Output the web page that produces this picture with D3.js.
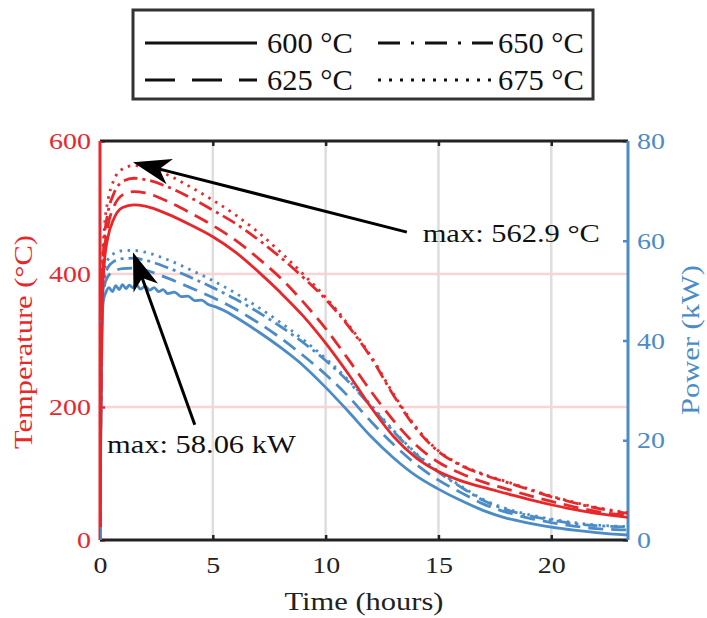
<!DOCTYPE html>
<html>
<head>
<meta charset="utf-8">
<script src="https://cdn.jsdelivr.net/npm/d3@7"></script>
<style>
  body { margin: 0; background: #fff; }
  text { font-family: "Liberation Serif", "Times New Roman", serif; }
</style>
</head>
<body>
<div id="chart"></div>
<script>
// Values
// ==============================
var hours = [0, 0.05, 0.1, 0.2, 0.35, 0.6, 1.0, 1.5, 2, 3, 4, 5, 6, 7, 8, 9, 10, 11, 12, 13, 14, 15, 16, 17, 18, 19, 20, 21, 22, 23.4];

// temperature (°C), one list per setpoint
var temp600 = [20, 250, 360, 420, 455, 482, 500, 504, 502, 490, 474, 456, 433, 404, 372, 337, 296, 250, 200, 156, 124, 103, 89, 79, 70, 61, 53, 46, 40, 34];
var temp625 = [20, 260, 375, 435, 472, 500, 519, 524, 522, 509, 492, 473, 451, 424, 394, 358, 318, 272, 224, 180, 143, 117, 100, 87, 77, 67, 58, 50, 43, 37];
var temp650 = [20, 270, 390, 455, 492, 520, 539, 544, 542, 531, 515, 496, 476, 452, 425, 395, 362, 322, 275, 218, 168, 133, 112, 98, 87, 76, 65, 56, 48, 40];
var temp675 = [20, 280, 405, 472, 510, 540, 558, 563, 561, 549, 531, 511, 489, 463, 433, 400, 365, 324, 277, 220, 170, 134, 113, 99, 88, 77, 66, 57, 49, 41];

// power (kW); the 600 °C trace is noisy so it has its own finer time list
var hoursFine = [0, 0.05, 0.1, 0.15, 0.25, 0.4, 0.55, 0.7, 0.85, 1.0, 1.15, 1.3, 1.45, 1.6, 1.8, 2.0, 2.2, 2.4, 2.6, 2.8, 3.0, 3.3, 3.6, 3.9, 4.2, 4.5, 4.8, 5.1, 5.5, 6, 7, 8, 9, 10, 11, 12, 13, 14, 15, 16, 17, 18, 19, 20, 21, 22, 23.4];
var power600 = [0, 30, 44, 48, 49.5, 50.6, 49.8, 51.0, 50.2, 51.2, 50.4, 51.1, 50.6, 51.2, 50.3, 50.9, 50.1, 50.6, 49.8, 50.2, 49.4, 49.7, 48.8, 48.9, 48.0, 48.1, 47.2, 46.8, 46.0, 44.7, 41.8, 38.6, 35.0, 30.6, 25.8, 20.8, 16.5, 12.9, 10.2, 7.9, 5.9, 4.4, 3.4, 2.6, 2.0, 1.5, 1.0];
var power625 = [0, 32, 46, 51, 52.8, 53.8, 54.4, 54.5, 54.1, 52.5, 50.6, 48.6, 46.3, 43.6, 40.5, 37.0, 33.2, 28.8, 23.8, 19.2, 15.2, 12.0, 9.5, 7.2, 5.6, 4.4, 3.5, 2.8, 2.3, 2.0];
var power650 = [0, 33, 47, 52.5, 54.6, 55.8, 56.4, 56.5, 56.1, 54.6, 52.7, 50.6, 48.3, 45.7, 42.8, 39.6, 36.0, 31.8, 26.8, 21.8, 17.2, 13.6, 10.6, 7.9, 6.1, 4.9, 4.0, 3.3, 2.9, 2.6];
var power675 = [0, 34, 48.5, 54, 56.2, 57.4, 58.0, 58.06, 57.7, 56.2, 54.2, 52.0, 49.5, 46.7, 43.6, 40.2, 36.4, 32.1, 27.1, 22.0, 17.4, 13.8, 10.8, 8.1, 6.3, 5.1, 4.2, 3.5, 3.0, 2.7];

var setpoints = ["600 °C", "625 °C", "650 °C", "675 °C"];
var timeTicks = [0, 5, 10, 15, 20];
var tempTicks = [0, 200, 400, 600];
var powerTicks = [0, 20, 40, 60, 80];

// annotations, in data units: [hours, value]
var tempNote = {label: "max: 562.9 °C", tip: [1.46, 568], tail: [13.6, 463], at: [14.3, 448]};
var powerNote = {label: "max: 58.06 kW", tip: [1.46, 57.7], tail: [4.2, 23.1], at: [0.31, 17.4]};

// Chart setup
// ==============================
var svgWidth = 707;
var svgHeight = 618;
var margin = {top: 141, right: 79, bottom: 78, left: 100};
var width = svgWidth - margin.left - margin.right;
var height = svgHeight - margin.top - margin.bottom;

var red = "#e8272b";
var blue = "#4a8bc8";
var dashes = [null, "15,8", "14,5,3,5", "2.5,5.5"];
var legendDashes = [null, "30,17", "22,11,3,11", "3,8"];
var sx = 1.2; // the type in the figure is set wide

var svg = d3.select("#chart")
    .append("svg")
    .attr("width", svgWidth)
    .attr("height", svgHeight);

var chartGroup = svg.append("g")
    .attr("transform", `translate(${margin.left}, ${margin.top})`);

var xScale = d3.scaleLinear().domain([0, 23.4]).range([0, width]);
var yTemp = d3.scaleLinear().domain([0, 600]).range([height, 0]);
var yPower = d3.scaleLinear().domain([0, 80]).range([height, 0]);

function wideText(g, x, y, str, size, color, anchor, rotate, stretch) {
    return g.append("text")
        .attr("transform", `translate(${x}, ${y})` + (rotate ? " rotate(-90)" : "") + ` scale(${stretch || sx}, 1)`)
        .attr("text-anchor", anchor || "start")
        .attr("font-size", size)
        .attr("fill", color)
        .text(str);
}

// Grid lines
// ==============================
chartGroup.append("g")
    .selectAll("line")
    .data(timeTicks.slice(1))
    .enter()
    .append("line")
    .attr("x1", d => xScale(d)).attr("x2", d => xScale(d))
    .attr("y1", 0).attr("y2", height)
    .attr("stroke", "#dedede")
    .attr("stroke-width", 2.5);

chartGroup.append("g")
    .selectAll("line")
    .data(tempTicks.slice(1, -1))
    .enter()
    .append("line")
    .attr("x1", 0).attr("x2", width)
    .attr("y1", d => yTemp(d)).attr("y2", d => yTemp(d))
    .attr("stroke", "#fad4d4")
    .attr("stroke-width", 2.5);

// Axes
// ==============================
function styleAxis(g, color) {
    g.select(".domain").remove();
    g.selectAll("line").attr("stroke", color).attr("stroke-width", 2.5);
    g.selectAll("text")
        .attr("font-size", 23.3)
        .attr("fill", color);
}

var bottomAxis = chartGroup.append("g")
    .attr("transform", `translate(0, ${height})`)
    .call(d3.axisBottom(xScale).tickValues(timeTicks).tickSize(-5).tickFormat(d3.format("d")));
styleAxis(bottomAxis, "#222");
bottomAxis.selectAll("text").attr("y", 33).attr("dy", 0).attr("transform", `scale(${sx}, 1)`);

var topAxis = chartGroup.append("g")
    .call(d3.axisTop(xScale).tickValues(timeTicks.slice(1)).tickSize(-5).tickFormat(""));
styleAxis(topAxis, "#222");

var leftAxis = chartGroup.append("g")
    .call(d3.axisLeft(yTemp).tickValues(tempTicks).tickSize(-5));
styleAxis(leftAxis, red);
leftAxis.selectAll("text").attr("x", -7.5).attr("dy", "0.33em").attr("transform", `scale(${sx}, 1)`);

var rightAxis = chartGroup.append("g")
    .attr("transform", `translate(${width}, 0)`)
    .call(d3.axisRight(yPower).tickValues(powerTicks).tickSize(-5));
styleAxis(rightAxis, blue);
rightAxis.selectAll("text").attr("x", 7.5).attr("dy", "0.33em").attr("transform", `scale(${sx}, 1)`);

// frame lines
chartGroup.append("line").attr("x1", 0).attr("x2", width).attr("y1", height).attr("y2", height)
    .attr("stroke", "#222").attr("stroke-width", 3);
chartGroup.append("line").attr("x1", 0).attr("x2", width).attr("y1", 0).attr("y2", 0)
    .attr("stroke", "#222").attr("stroke-width", 3);
chartGroup.append("line").attr("x1", 0).attr("x2", 0).attr("y1", 0).attr("y2", height)
    .attr("stroke", red).attr("stroke-width", 3);
chartGroup.append("line").attr("x1", width).attr("x2", width).attr("y1", 0).attr("y2", height)
    .attr("stroke", blue).attr("stroke-width", 3);

// Curves
// ==============================
svg.append("clipPath").attr("id", "plotArea")
    .append("rect").attr("x", 0).attr("y", 0).attr("width", width).attr("height", height);

var curves = chartGroup.append("g").attr("clip-path", "url(#plotArea)");

var powerSeries = [[hoursFine, power600], [hours, power625], [hours, power650], [hours, power675]];
var tempSeries = [[hours, temp600], [hours, temp625], [hours, temp650], [hours, temp675]];

function drawSeries(series, yScale, color) {
    series.forEach(function (s, k) {
        var line = d3.line()
            .x((d, i) => xScale(s[0][i]))
            .y(d => yScale(d))
            .curve(d3.curveMonotoneX);
        curves.append("path")
            .attr("d", line(s[1]))
            .attr("fill", "none")
            .attr("stroke", color)
            .attr("stroke-width", 2.8)
            .attr("stroke-dasharray", dashes[k]);
    });
}
drawSeries(powerSeries, yPower, blue);
drawSeries(tempSeries, yTemp, red);

// Annotations
// ==============================
function drawArrow(note, yScale) {
    var tip = [xScale(note.tip[0]), yScale(note.tip[1])];
    var tail = [xScale(note.tail[0]), yScale(note.tail[1])];
    var dx = tail[0] - tip[0], dy = tail[1] - tip[1];
    var len = Math.sqrt(dx * dx + dy * dy);
    var ux = dx / len, uy = dy / len;
    var L = 38, W = 13;
    var head = [
        tip,
        [tip[0] + L * ux - W * uy, tip[1] + L * uy + W * ux],
        [tip[0] + 0.72 * L * ux, tip[1] + 0.72 * L * uy],
        [tip[0] + L * ux + W * uy, tip[1] + L * uy - W * ux]
    ];
    chartGroup.append("line")
        .attr("x1", tail[0]).attr("y1", tail[1])
        .attr("x2", tip[0] + 0.7 * L * ux).attr("y2", tip[1] + 0.7 * L * uy)
        .attr("stroke", "#000").attr("stroke-width", 3);
    chartGroup.append("polygon")
        .attr("points", head.map(p => p.join(",")).join(" "))
        .attr("fill", "#000");
    wideText(chartGroup, xScale(note.at[0]), yScale(note.at[1]), note.label, 25.4, "#111");
}
drawArrow(tempNote, yTemp);
drawArrow(powerNote, yPower);

// Axis labels
// ==============================
wideText(svg, 32, 342, "Temperature (°C)", 25.4, red, "middle", true);
wideText(svg, 699, 340, "Power (kW)", 25.4, blue, "middle", true);
wideText(svg, 364, 610, "Time (hours)", 25.4, "#222", "middle");

// Legend
// ==============================
var legend = svg.append("g");
legend.append("rect")
    .attr("x", 133).attr("y", 10).attr("width", 460).attr("height", 89)
    .attr("fill", "#fff").attr("stroke", "#333").attr("stroke-width", 3);

// order in the box: column 1 = 600, 625; column 2 = 650, 675
setpoints.forEach(function (name, k) {
    var col = Math.floor(k / 2), row = k % 2;
    var x0 = col === 0 ? 145 : 378;
    var x1 = col === 0 ? 257 : 493;
    var y = row === 0 ? 43 : 80;
    legend.append("line")
        .attr("x1", x0).attr("x2", x1).attr("y1", y).attr("y2", y)
        .attr("stroke", "#111").attr("stroke-width", 3)
        .attr("stroke-dasharray", legendDashes[k]);
    wideText(legend, x1 + (col === 0 ? 10 : 5), y + 10, name, 28.5, "#111", "start", false, 1.07);
});
</script>
</body>
</html>
